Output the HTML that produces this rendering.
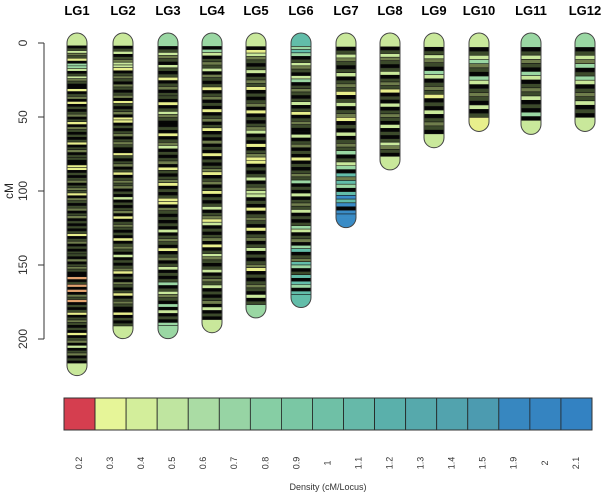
<!DOCTYPE html>
<html><head><meta charset="utf-8"><style>
html,body{margin:0;padding:0;background:#fff}
svg{display:block;font-family:"Liberation Sans",Arial,sans-serif}
</style></head><body>
<svg id="chart" width="605" height="494" viewBox="0 0 605 494" xmlns="http://www.w3.org/2000/svg"></svg>
<script>
const groups=["LG1","LG2","LG3","LG4","LG5","LG6","LG7","LG8","LG9","LG10","LG11","LG12"];
const lengths=[218,193,193,189,179,172,118,79,64,53,55,53];
const bands=[
"LKDLODYKGGLKDLODKKYKDOKYKDKDOKDYKODKDKDYKDOKDDKKYYKDKDOKDODYKODKDOKDOKDKDKDYKDOKDKDDKOKDODKKRKDRKRKODRKDKDYKDODKDKYKDOKLKDOKDKL",
"LKDLKDOLLYKDODKODKDOKYDKDOKYYKDKDOKDODKKYDKDOKDYKDODOKDKLKDKDOKYKDODKDKYKDODKLKDKDOYKDKODKDYKDODKKYKDKDL",
"GKDLODKLDKDYKDOKDDKYKDLODKKDKYKDOLKDKDOKYDKDOYKDKDYYKODKDKDKLKDODKYKDOKDLKDKDGKDLODKGKLKDKGG",
"GKGLKDODLKODKDYKDOKDKYKDOKDYKDKOKDKYKDKDOYKDOKDYKDKDLKDOYLKDKDOKYKDLODKDLKDODLKDKDOKLKDKL",
"LKYLODKDLKDODYKDKDOKYKDKDOLKDKYKDOYYKDKDLKDOLLKDKYKDODKYKDOKDLKDKDOYKDKDODKLKDG",
"TGTGKDLODKLGKDODKDLKDYKDODKKLKDOKDKYKDKDODGKDKLKDODLKDKDGLKDOKGTKDOTGKDTKTGKTT",
"LKDLODKDLKDODYKDLKDOYKDKLKDODGKDLGKTOTGKTBTBKBB",
"LKDLODKDLKDODYKDKLKDODKLKDKDLODKL",
"LKDLODKGLKDODYKDKLKDODKL",
"LKDLGODKGLKDODKLKDY",
"GKDLODKGLKDODLKDKGKL",
"GKDLOGKDGLKDODLKDKL"
];
const legendLabels=["0.2","0.3","0.4","0.5","0.6","0.7","0.8","0.9","1","1.1","1.2","1.3","1.4","1.5","1.9","2","2.1"];
const legendColors=["#d53e4f","#e6f598","#d3ee9b","#bfe5a0","#aadca4","#97d4a4","#86cea4","#7ac7a4","#6fc0a6","#66b9a9","#5ab0ab","#56a9ac","#52a3ae","#4c9bb0","#3787c0","#3584c1","#3382c2"];
const axisTicks=[0,50,100,150,200];
const colorMap={K:"#050505",D:"#3c4a2b",O:"#6f7d4c",Y:"#e8ef8c",L:"#c9e89b",G:"#9ad7a3",T:"#62bda9",B:"#3a8cc6",R:"#e2a26f"};
const centers=[77,123,168,212,256,301,346,390,434,479,531,585];
const NS="http://www.w3.org/2000/svg";
const svg=document.getElementById('chart');
const y0=43,ppc=1.48,w=20,r=10;
const yS=v=>y0+v*ppc;
function mk(t,a,p){const e=document.createElementNS(NS,t);for(const k in a)e.setAttribute(k,a[k]);(p||svg).appendChild(e);return e;}
const ax=mk('g',{});


mk('line',{x1:44,x2:44,y1:yS(0),y2:yS(200),stroke:'#333','stroke-width':1},ax);
axisTicks.forEach(t=>{
 mk('line',{x1:38,x2:44,y1:yS(t),y2:yS(t),stroke:'#333'},ax);
 const tx=mk('text',{x:24,y:yS(t),'font-size':12,fill:'#333','text-anchor':'middle',transform:`rotate(-90 24 ${yS(t)})`,'dominant-baseline':'middle'},ax);
 tx.textContent=t;
 
 
});
const yt=mk('text',{x:10,y:191,'font-size':12,fill:'#222','text-anchor':'middle',transform:'rotate(-90 10 191)','dominant-baseline':'middle'});
yt.textContent='cM';


groups.forEach((g,i)=>{
 const cx=centers[i],x=cx-w/2,len=lengths[i],s=bands[i],n=s.length;
 const gr=mk('g',{});
 
 
 const lt=mk('text',{x:cx,y:15,'font-size':13,'font-weight':'bold','text-anchor':'middle',fill:'#000'},gr);
 lt.textContent=g;
 
 
 const yb=yS(len);
 mk('path',{d:`M${x} ${y0} A${r} ${r} 0 0 1 ${x+w} ${y0} Z`,fill:colorMap[s[0]]},gr);
 mk('path',{d:`M${x} ${yb} A${r} ${r} 0 0 0 ${x+w} ${yb} Z`,fill:colorMap[s[n-1]]},gr);
 for(let j=0;j<n;j++){
  const a=yS(j*len/n),b=yS((j+1)*len/n);
  const rc=mk('rect',{x:x,y:a,width:w,height:b-a+0.3,fill:colorMap[s[j]]},gr);
  
  
  if(s[j]!=='K'&&j>0) mk('line',{x1:x,x2:x+w,y1:a,y2:a,stroke:'#111','stroke-width':0.6},gr);
 }
 mk('path',{d:`M${x} ${yb} L${x} ${y0} A${r} ${r} 0 0 1 ${x+w} ${y0} L${x+w} ${yb} A${r} ${r} 0 0 1 ${x} ${yb} Z`,fill:'none',stroke:'#444','stroke-width':1},gr);
});
const lg=mk('g',{});


const lx0=64,lx1=592,cw=(lx1-lx0)/legendLabels.length;
legendLabels.forEach((l,i)=>{
 const c=mk('rect',{x:lx0+i*cw,y:398,width:cw,height:32,fill:legendColors[i],stroke:'#222','stroke-width':0.8},lg);
 
 
 const cx=lx0+(i+0.5)*cw;
 const t=mk('text',{x:cx,y:463,'font-size':9,fill:'#333','text-anchor':'middle','dominant-baseline':'middle',transform:`rotate(-90 ${cx} 463)`},lg);
 t.textContent=l;
 
 
});
mk('rect',{x:lx0,y:398,width:lx1-lx0,height:32,fill:'none',stroke:'#333','stroke-width':1},lg);
const lt2=mk('text',{x:328,y:490,'font-size':9,fill:'#333','text-anchor':'middle'},lg);
lt2.textContent='Density (cM/Locus)';


</script>
</body></html>
